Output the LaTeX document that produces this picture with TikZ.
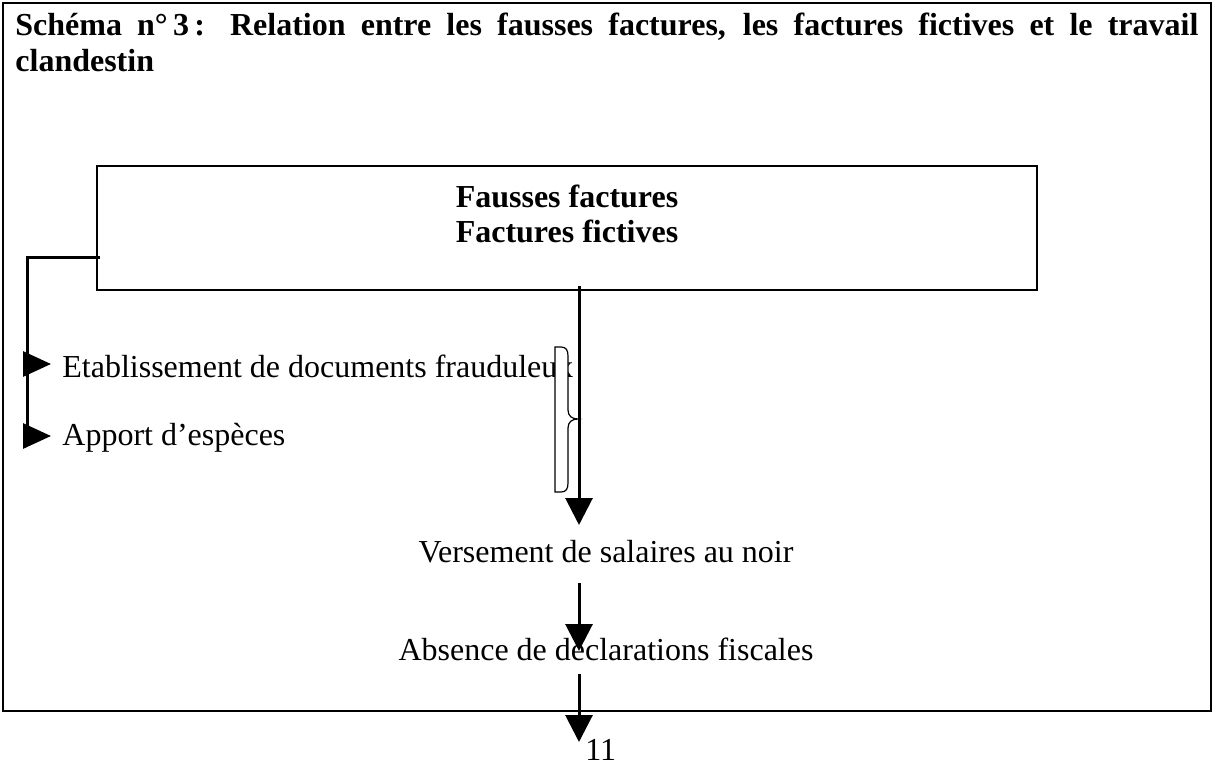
\documentclass[tikz,border=0pt]{standalone}
\usepackage{fontspec}
\setmainfont{Liberation Serif}
\usetikzlibrary{arrows.meta}
\begin{document}
\begin{tikzpicture}[x=0.5pt,y=-0.5pt,
  txt/.style={inner sep=0pt,font=\fontsize{16}{18}\selectfont},
  btxt/.style={inner sep=0pt,font=\fontsize{16}{18}\selectfont\bfseries},
  thin/.style={line width=0.6pt},
  thickline/.style={line width=1.5pt},
  arr/.style={line width=1.5pt,-{Triangle[length=13.5pt,width=13.5pt]}},
  sidearr/.style={line width=1.5pt,-{Triangle[length=14pt,width=12.5pt]}}]
\useasboundingbox (0,0) rectangle (1213,764);
% outer frame
\draw[line width=1pt] (3,3) rectangle (1211,711);
% title
\node[btxt,anchor=base west] (t1) at (15,36) {\makebox[591.5pt][s]{Schéma n°\,3\,: Relation entre les fausses factures, les factures fictives et le travail}};
\node[btxt,anchor=base west] (t2) at (15,72) {clandestin};
% main box
\node[thin,draw,minimum width=470pt,minimum height=62pt,inner sep=0pt] (box) at (567,228) {};
\node[btxt,anchor=base] (ff1) at (567,208) {Fausses factures};
\node[btxt,anchor=base] (ff2) at (567,243) {Factures fictives};
% texts
\node[txt,anchor=base west] (etab) at (62,377) {Etablissement de documents frauduleux};
\node[txt,anchor=base west] (app) at (62,445) {Apport d’espèces};
\node[txt,anchor=base] (vers) at (606,562) {Versement de salaires au noir};
\node[txt,anchor=base] (abs) at (606,660) {Absence de déclarations fiscales};
\node[txt,anchor=base west] (pg) at (585,760) {11};
% left connector
\coordinate (lc) at (100,258);
\coordinate (lb) at (27,442);
\draw[thickline] (lc) -| (lb);
\coordinate (e0) at (23,364);
\coordinate (e1) at (51,364);
\coordinate (p0) at (23,436);
\coordinate (p1) at (51,436);
\draw[sidearr] (e0) -- (e1);
\draw[sidearr] (p0) -- (p1);
% brace
\draw[line width=0.6pt,fill=white] (555,347) -- (555,492) -- (561,492)
  .. controls (566,492) and (568,489) .. (568,483) -- (568,428)
  .. controls (568,422) and (572,419) .. (578,419)
  .. controls (572,419) and (568,416) .. (568,410) -- (568,356)
  .. controls (568,350) and (566,347) .. (561,347) -- cycle;
% central arrows
\coordinate (a0) at (579,286);
\coordinate (a1) at (579,525);
\coordinate (b0) at (579,583);
\coordinate (b1) at (579,651);
\coordinate (c0) at (579,674);
\coordinate (c1) at (579,742);
\draw[arr] (a0) -- (a1);
\draw[arr] (b0) -- (b1);
\draw[arr] (c0) -- (c1);
\end{tikzpicture}
\end{document}
